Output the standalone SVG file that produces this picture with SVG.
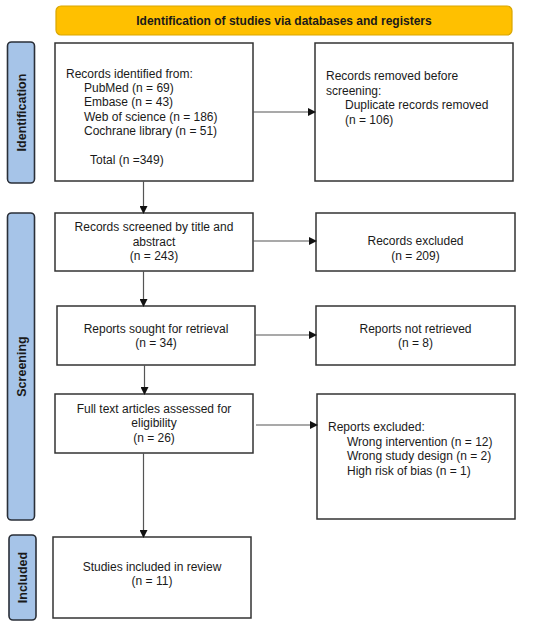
<svg xmlns="http://www.w3.org/2000/svg" width="550" height="627" viewBox="0 0 550 627">
<defs>
<marker id="ah" markerWidth="8" markerHeight="8" refX="7" refY="4" orient="auto" markerUnits="userSpaceOnUse">
<path d="M0,0 L8,4 L0,8 Z" fill="#111"/>
</marker>
<style>
.box{fill:#fff;stroke:#333;stroke-width:1.5}
.side{fill:#a6c4e8;stroke:#2a2f38;stroke-width:1.6}
.t{font-family:"Liberation Sans",Arial,sans-serif;font-size:12px;fill:#1a1a1a}
.c{text-anchor:middle}
.b{font-family:"Liberation Sans",Arial,sans-serif;font-weight:bold;font-size:12px;fill:#1a1a1a;text-anchor:middle}
.sb{font-family:"Liberation Sans",Arial,sans-serif;font-weight:bold;font-size:12.5px;fill:#1a1a1a;text-anchor:middle}
.con{stroke:#555;stroke-width:1.2;fill:none;marker-end:url(#ah)}
</style>
</defs>
<rect width="550" height="627" fill="#fff"/>
<g id="header">
<rect x="56" y="6" width="456" height="29" rx="5" fill="#ffc000" stroke="#d9a600" stroke-width="1.2"/>
<text class="b" x="284" y="25">Identification of studies via databases and registers</text>
</g>
<g id="lbl-identification">
<rect class="side" x="7.5" y="42" width="27" height="141" rx="4"/>
<text class="sb" transform="translate(25.5,112.5) rotate(-90)">Identification</text>
</g>
<g id="lbl-screening">
<rect class="side" x="7.5" y="213" width="27" height="307" rx="4"/>
<text class="sb" transform="translate(25.5,366.5) rotate(-90)">Screening</text>
</g>
<g id="lbl-included">
<rect class="side" x="9" y="535" width="27" height="85" rx="4"/>
<text class="sb" transform="translate(27,577.5) rotate(-90)">Included</text>
</g>
<g id="n-identified">
<rect class="box" x="55" y="43" width="198" height="138"/>
<text class="t" x="66" y="78">Records identified from:</text>
<text class="t" x="84" y="92">PubMed (n = 69)</text>
<text class="t" x="84" y="106">Embase (n = 43)</text>
<text class="t" x="84" y="120.5">Web of science (n = 186)</text>
<text class="t" x="84" y="135">Cochrane library (n = 51)</text>
<text class="t" x="90" y="164">Total (n =349)</text>
</g>
<g id="n-removed">
<rect class="box" x="315" y="43" width="198" height="138"/>
<text class="t" x="326" y="80">Records removed before</text>
<text class="t" x="326" y="94.5">screening:</text>
<text class="t" x="345" y="109">Duplicate records removed</text>
<text class="t" x="345" y="123.5">(n = 106)</text>
</g>
<g id="n-screened">
<rect class="box" x="55" y="213" width="198" height="58"/>
<text class="t c" x="154" y="231">Records screened by title and</text>
<text class="t c" x="154" y="245.5">abstract</text>
<text class="t c" x="154" y="259.5">(n = 243)</text>
</g>
<g id="n-excluded">
<rect class="box" x="316" y="213" width="199" height="58"/>
<text class="t c" x="415.5" y="245">Records excluded</text>
<text class="t c" x="415.5" y="259.5">(n = 209)</text>
</g>
<g id="n-sought">
<rect class="box" x="57" y="306" width="198" height="59"/>
<text class="t c" x="156" y="332.5">Reports sought for retrieval</text>
<text class="t c" x="156" y="347">(n = 34)</text>
</g>
<g id="n-notretrieved">
<rect class="box" x="316" y="306" width="199" height="59"/>
<text class="t c" x="415.5" y="332.5">Reports not retrieved</text>
<text class="t c" x="415.5" y="347">(n = 8)</text>
</g>
<g id="n-assessed">
<rect class="box" x="55" y="394" width="198" height="59"/>
<text class="t c" x="154" y="412.5">Full text articles assessed for</text>
<text class="t c" x="154" y="427">eligibility</text>
<text class="t c" x="154" y="441.5">(n = 26)</text>
</g>
<g id="n-reportsexcluded">
<rect class="box" x="317" y="394" width="198" height="125"/>
<text class="t" x="328" y="431">Reports excluded:</text>
<text class="t" x="347" y="445.5">Wrong intervention (n = 12)</text>
<text class="t" x="347" y="460">Wrong study design (n = 2)</text>
<text class="t" x="347" y="475">High risk of bias (n = 1)</text>
</g>
<g id="n-included">
<rect class="box" x="53" y="537" width="198" height="81"/>
<text class="t c" x="152" y="570.5">Studies included in review</text>
<text class="t c" x="152" y="585">(n = 11)</text>
</g>
<g id="connectors">
<line class="con" x1="253" y1="112" x2="315" y2="112"/>
<line class="con" x1="143.5" y1="181" x2="143.5" y2="213"/>
<line class="con" x1="253" y1="241" x2="316" y2="241"/>
<line class="con" x1="143.5" y1="271" x2="143.5" y2="306"/>
<line class="con" x1="255" y1="335" x2="316" y2="335"/>
<line class="con" x1="144.5" y1="365" x2="144.5" y2="394"/>
<line class="con" x1="256" y1="425" x2="317" y2="425"/>
<line class="con" x1="143.5" y1="453" x2="143.5" y2="537"/>
</g>
</svg>
